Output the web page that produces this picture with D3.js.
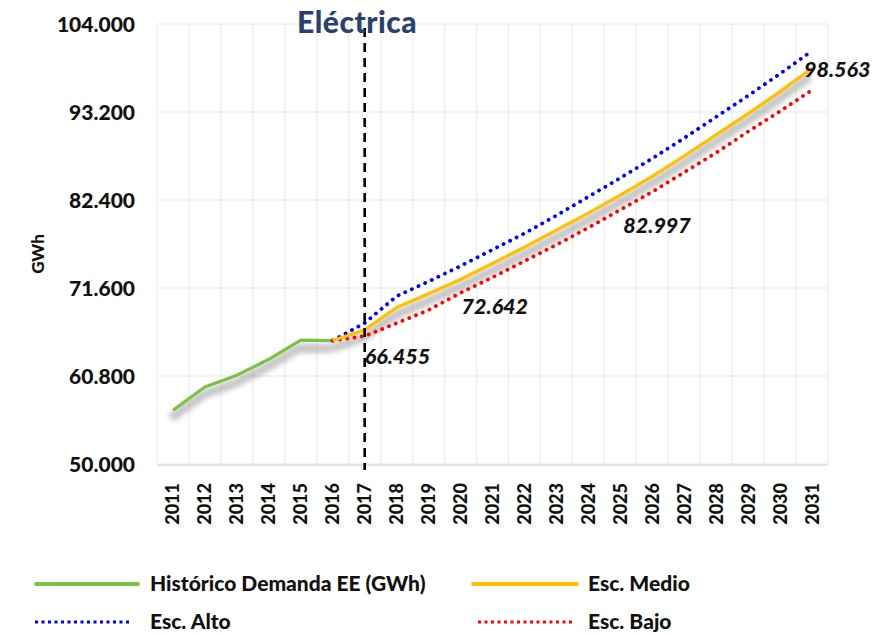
<!DOCTYPE html>
<html><head><meta charset="utf-8">
<script src="https://cdn.jsdelivr.net/npm/d3@7"></script>
<style>body{margin:0;background:#fff;} svg{display:block;}</style>
</head><body>
<svg id="c" width="892" height="633"></svg>
<script>
const years = [2011,2012,2013,2014,2015,2016,2017,2018,2019,2020,2021,2022,2023,2024,2025,2026,2027,2028,2029,2030,2031];
const yTicks = [50.0,60.8,71.6,82.4,93.2,104.0];
const histYears = [2011,2012,2013,2014,2015,2016];
const histValues = [56.6,59.45,60.9,62.85,65.2,65.15];
const projYears = [2016,2017,2018,2019,2020,2021,2022,2023,2024,2025,2026,2027,2028,2029,2030,2031];
const medioValues = [65.15,66.455,69.2,70.9,72.642,74.6,76.6,78.7,80.8,82.997,85.3,87.8,90.4,93.0,95.7,98.563];
const altoValues  = [65.15,67.3,70.6,72.4,74.3,76.3,78.3,80.5,82.8,85.1,87.5,90.0,92.6,95.2,97.9,100.7];
const bajoValues  = [65.15,65.7,67.3,68.9,71.0,72.9,74.9,76.9,79.0,81.2,83.4,85.8,88.2,90.8,93.3,95.9];
const labelYears = [2017,2020,2025,2031];
const labelTexts = ["66.455","72.642","82.997","98.563"];
const dividerYear = 2017;
const title = "Eléctrica";
const yTitle = "GWh";
const legendNames = ["Histórico Demanda EE (GWh)","Esc. Medio","Esc. Alto","Esc. Bajo"];

const svg = d3.select("#c");
const L=157, R=828, T=24, B=464;
const x = d3.scaleBand().domain(years).range([L,R]);
const xc = d => x(d) + x.bandwidth()/2;
const y = d3.scaleLinear().domain([50,104]).range([B,T]);

const defs = svg.append("defs");
const f = defs.append("filter").attr("id","sh").attr("x","-10%").attr("y","-10%").attr("width","130%").attr("height","140%");
f.append("feGaussianBlur").attr("stdDeviation",2.4);

// grid
const g = svg.append("g");
g.selectAll(".vg").data(years.concat([null])).join("line")
  .attr("x1",(d,i)=>L+i*x.bandwidth()).attr("x2",(d,i)=>L+i*x.bandwidth())
  .attr("y1",T).attr("y2",B).attr("stroke","#eeeeee").attr("stroke-width",1.3);
g.selectAll(".hg").data(yTicks).join("line")
  .attr("x1",L).attr("x2",R).attr("y1",d=>y(d)).attr("y2",d=>y(d))
  .attr("stroke","#eeeeee").attr("stroke-width",1.3);
g.append("line").attr("x1",L).attr("x2",R).attr("y1",B+1).attr("y2",B+1).attr("stroke","#e2e2e2").attr("stroke-width",2);

// y axis labels
const yAxis = d3.axisLeft(y).tickValues(yTicks).tickSize(0).tickPadding(0)
  .tickFormat(d=>d3.format(".3f")(d).replace(",",""));
const ya = svg.append("g").attr("transform",`translate(135,0)`).call(yAxis);
ya.select(".domain").remove();
ya.selectAll("text").attr("font-family","Lato").attr("font-weight","900").attr("font-size",21).attr("fill","#111").attr("dy","0.35em");

// x axis labels
const xAxis = d3.axisBottom(x).tickSize(0).tickPadding(0);
const xa = svg.append("g").attr("transform",`translate(0,${B})`).call(xAxis);
xa.select(".domain").remove();
xa.selectAll("text").attr("font-family","Lato").attr("font-weight","900").attr("font-size",18).attr("fill","#111")
  .attr("transform","rotate(-90)").attr("text-anchor","end").attr("x",-19).attr("y",0).attr("dy","0.36em");

// y title
svg.append("text").attr("transform","translate(44,254) rotate(-90)").attr("text-anchor","middle")
  .attr("font-family","Lato").attr("font-weight","900").attr("font-size",17).attr("fill","#111").text(yTitle);

const line = d3.line().x(d=>xc(d[0])).y(d=>y(d[1]));
const hist = histYears.map((d,i)=>[d,histValues[i]]);
const medio = projYears.map((d,i)=>[d,medioValues[i]]);
const alto = projYears.map((d,i)=>[d,altoValues[i]]);
const bajo = projYears.map((d,i)=>[d,bajoValues[i]]);

// shadows
[hist, medio].forEach(s=>{
  svg.append("path").datum(s).attr("d",line).attr("fill","none").attr("stroke","#8f8f8f")
    .attr("stroke-width",9).attr("opacity",0.5).attr("filter","url(#sh)")
    .attr("transform","translate(-2,8)");
});

svg.append("path").datum(hist).attr("d",line).attr("fill","none").attr("stroke","#7cc242").attr("stroke-width",3.2).attr("stroke-linejoin","round");
svg.append("path").datum(alto).attr("d",line).attr("fill","none").attr("stroke","#0000ff").attr("stroke-width",3.8)
  .attr("stroke-dasharray","0.1 7.2").attr("stroke-linecap","round");
svg.append("path").datum(bajo).attr("d",line).attr("fill","none").attr("stroke","#ff0000").attr("stroke-width",3.8)
  .attr("stroke-dasharray","0.1 7.2").attr("stroke-linecap","round");
svg.append("path").datum(medio).attr("d",line).attr("fill","none").attr("stroke","#ffc000").attr("stroke-width",3.2).attr("stroke-linejoin","round");

// divider
svg.append("line").attr("x1",xc(dividerYear)).attr("x2",xc(dividerYear)).attr("y1",T+4).attr("y2",B+6)
  .attr("stroke","#000").attr("stroke-width",2.6).attr("stroke-dasharray","9 6");

// data labels
const lblOff = {2017:[0,27],2020:[1,27],2025:[3,30],2031:[-8,1]};
labelYears.forEach((yr,i)=>{
  const v = medioValues[projYears.indexOf(yr)];
  const o = lblOff[yr];
  svg.append("text").attr("x",xc(yr)+o[0]).attr("y",y(v)+o[1]).attr("dy","0.35em")
    .attr("font-family","Lato").attr("font-style","italic").attr("font-weight","900").attr("font-size",21.5)
    .attr("fill","#111").text(labelTexts[i]);
});

// title
svg.append("text").attr("x",297).attr("y",33).attr("font-family","Lato").attr("font-weight","900")
  .attr("font-size",30).attr("letter-spacing",0.5).attr("fill","#2b416d").text(title);

// legend
const leg = svg.append("g").attr("font-family","Lato").attr("font-weight","900").attr("font-size",21).attr("fill","#111");
const items = [
  {x1:36,x2:138,y:584,tx:150,c:"#7cc242",dot:false},
  {x1:473,x2:577,y:584,tx:588,c:"#ffc000",dot:false},
  {x1:35,x2:132,y:622,tx:150,c:"#0000ff",dot:true},
  {x1:478,x2:572,y:622,tx:588,c:"#ff0000",dot:true}
];
items.forEach((it,i)=>{
  const ln = leg.append("line").attr("x1",it.x1).attr("x2",it.x2).attr("y1",it.y).attr("y2",it.y).attr("stroke",it.c);
  if(it.dot) ln.attr("stroke-width",3).attr("stroke-dasharray","3 3.5");
  else ln.attr("stroke-width",3.8).attr("stroke-linecap","round");
  leg.append("text").attr("x",it.tx).attr("y",it.y).attr("dy","0.35em").text(legendNames[i]);
});
</script>
</body></html>
